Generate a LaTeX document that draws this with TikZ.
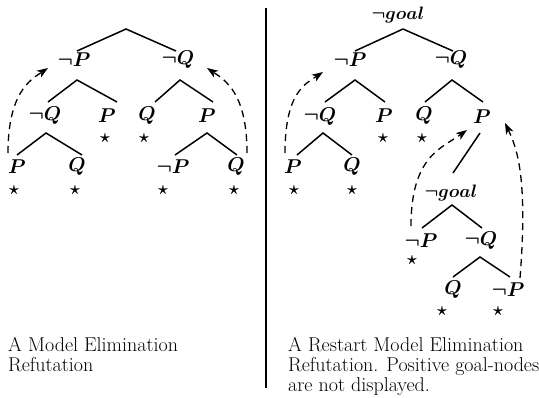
\RequirePackage{fix-cm}
\documentclass[tikz,border=0pt]{standalone}
\usepackage{fontspec}
\usetikzlibrary{calc,arrows.meta}
\begin{document}
\begin{tikzpicture}[x=1pt,y=-1pt,
  lab/.style={inner sep=0pt,font=\fontsize{20}{24}\selectfont\boldmath},
  gl/.style={inner sep=0pt,font=\fontsize{18}{22}\selectfont\boldmath},
  st/.style={inner sep=0pt,font=\fontsize{18}{20}\selectfont\boldmath},
  edge/.style={line width=1.5pt},
  back/.style={line width=1.3pt,dash pattern=on 7pt off 5pt,-{Stealth[length=11pt,width=8pt,inset=3pt]}},
  captxt/.style={inner sep=0pt,align=left,anchor=north west,font=\fontsize{20}{20}\selectfont}
]
\useasboundingbox (0,0) rectangle (539,397);
% divider
\coordinate (dtop) at (266,8);
\coordinate (dbot) at (266,388);
\draw[line width=2pt] (dtop) -- (dbot);

% ---------- left tree ----------
\coordinate (L0) at (126,29);
\node[lab] (L1a) at (74,60) {$\neg P$};
\node[lab] (L1b) at (178,60) {$\neg Q$};
\node[lab] (L2a) at (45,116) {$\neg Q$};
\node[lab] (L2b) at (107,116) {$P$};
\node[lab] (L2c) at (147,116) {$Q$};
\node[lab] (L2d) at (207,116) {$P$};
\node[lab] (L3a) at (17,167) {$P$};
\node[lab] (L3b) at (77,167) {$Q$};
\node[lab] (L3c) at (173,167) {$\neg P$};
\node[lab] (L3d) at (236,167) {$Q$};
\node[st] (sL2b) at (105,138) {$\star$};
\node[st] (sL2c) at (144,138) {$\star$};
\node[st] (sL3a) at (14,190) {$\star$};
\node[st] (sL3b) at (75,190) {$\star$};
\node[st] (sL3c) at (163,190) {$\star$};
\node[st] (sL3d) at (234,190) {$\star$};

\draw[edge] ($(L1a)+(3,-9)$) -- (L0) -- ($(L1b)+(-2,-9)$);
\draw[edge] ($(L2a)+(3,-14)$) -- ($(L1a)+(3,20)$) -- ($(L2b)+(10,-14)$);
\draw[edge] ($(L2c)+(8,-14)$) -- ($(L1b)+(2,20)$) -- ($(L2d)+(6,-14)$);
\draw[edge] ($(L3a)+(0,-12)$) -- ($(L2a)+(1,17)$) -- ($(L3b)+(5,-12)$);
\draw[edge] ($(L3c)+(2,-12)$) -- ($(L2d)+(0,17)$) -- ($(L3d)+(1,-12)$);

\draw[back] ($(L3a)+(-9,-14)$) .. controls +(0,-60) and +(-18,12) .. ($(L1a)+(-26,8)$);
\draw[back] ($(L3d)+(11,-14)$) .. controls +(0,-60) and +(18,12) .. ($(L1b)+(29,8)$);

% ---------- right tree ----------
\node[gl] (R0) at (398,15) {$\neg goal$};
\node[lab] (R1a) at (350,60) {$\neg P$};
\node[lab] (R1b) at (451,60) {$\neg Q$};
\node[lab] (R2a) at (320,117) {$\neg Q$};
\node[lab] (R2b) at (384,116) {$P$};
\node[lab] (R2c) at (424,116) {$Q$};
\node[lab] (R2d) at (482,117) {$P$};
\node[lab] (R3a) at (293,167) {$P$};
\node[lab] (R3b) at (352,167) {$Q$};
\node[gl] (R3c) at (451,193) {$\neg goal$};
\node[lab] (R4a) at (421,241) {$\neg P$};
\node[lab] (R4b) at (481,241) {$\neg Q$};
\node[lab] (R5a) at (453,290) {$Q$};
\node[lab] (R5b) at (508,290) {$\neg P$};
\node[st] (sR2b) at (383,138) {$\star$};
\node[st] (sR2c) at (422,138) {$\star$};
\node[st] (sR3a) at (294,190) {$\star$};
\node[st] (sR3b) at (352,190) {$\star$};
\node[st] (sR4a) at (412,260) {$\star$};
\node[st] (sR5a) at (442,311) {$\star$};
\node[st] (sR5b) at (498,311) {$\star$};

\draw[edge] ($(R1a)+(5,-9)$) -- ($(R0)+(5,14)$) -- ($(R1b)+(2,-9)$);
\draw[edge] ($(R2a)+(5,-15)$) -- ($(R1a)+(5,20)$) -- ($(R2b)+(1,-14)$);
\draw[edge] ($(R2c)+(1,-14)$) -- ($(R1b)+(1,20)$) -- ($(R2d)+(1,-15)$);
\draw[edge] ($(R3a)+(4,-12)$) -- ($(R2a)+(3,16)$) -- ($(R3b)+(0,-12)$);
\draw[edge] ($(R2d)+(-2,16)$) -- ($(R3c)+(2,-20)$);
\draw[edge] ($(R4a)+(1,-13)$) -- ($(R3c)+(1,12)$) -- ($(R4b)+(1,-13)$);
\draw[edge] ($(R5a)+(0,-13)$) -- ($(R4b)+(-1,16)$) -- ($(R5b)+(2,-13)$);

\draw[back] ($(R3a)+(-8,-14)$) .. controls +(0,-60) and +(-18,12) .. ($(R1a)+(-27,12)$);
\draw[back] ($(R4a)+(-10,-15)$) .. controls +(0,-70) and +(-25,18) .. ($(R2d)+(-15,13)$);
\draw[back] ($(R5b)+(12,-12)$) .. controls +(8,-100) and +(12,25) .. ($(R2d)+(23,6)$);

% captions
\node[captxt] (capL) at (8,337) {A Model Elimination\\Refutation};
\node[captxt] (capR) at (288,337) {A Restart Model Elimination\\Refutation. Positive goal-nodes\\are not displayed.};
\end{tikzpicture}
\end{document}
